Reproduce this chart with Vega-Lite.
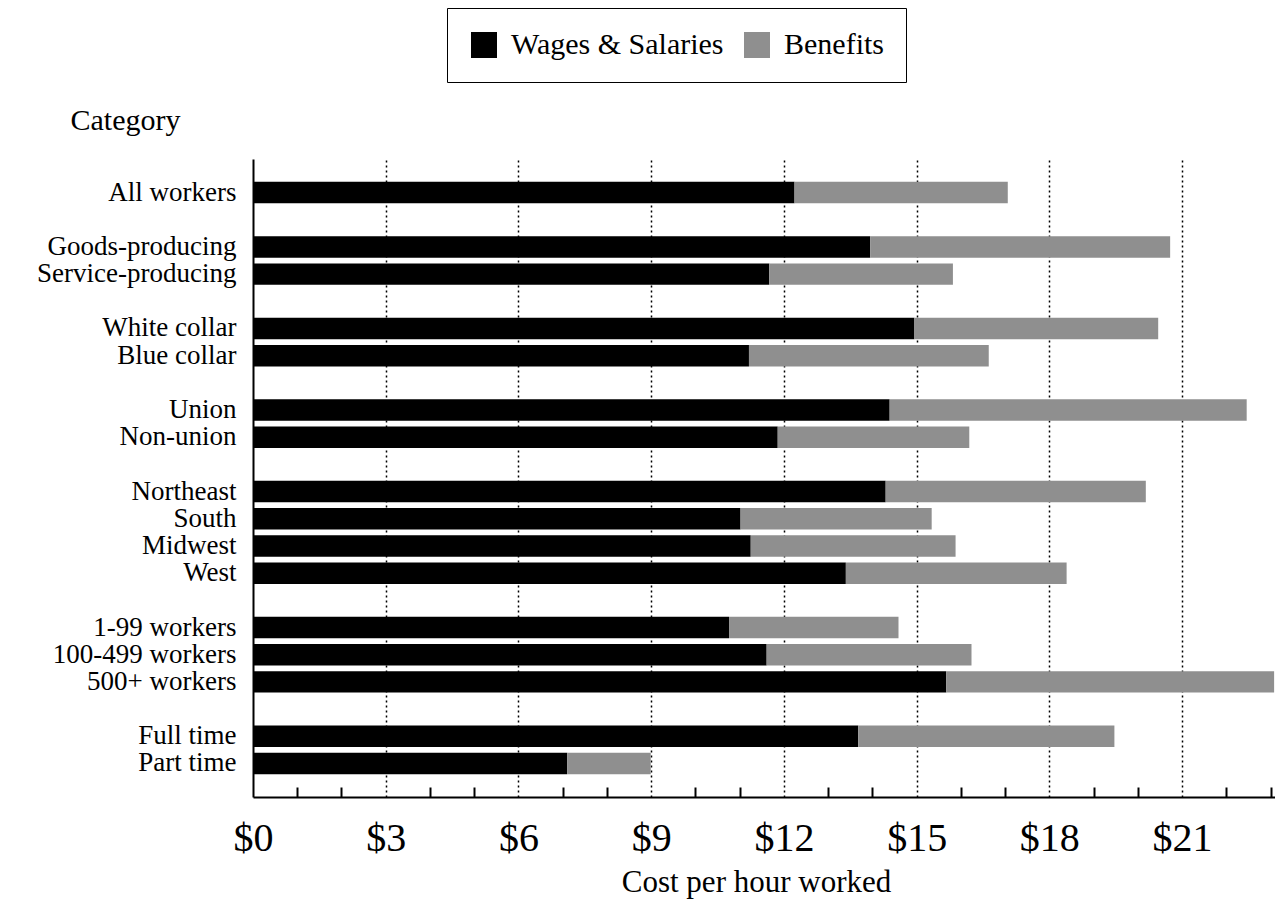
{
  "$schema": "https://vega.github.io/schema/vega-lite/v6.json",
  "width": 1022,
  "height": 638,
  "autosize": {"type": "none"},
  "padding": {"left": 253, "top": 159, "right": 0, "bottom": 102},
  "background": "white",
  "data": {
    "values": [
      {"category": "All workers", "component": "Wages & Salaries", "ord": 1, "cost": 12.24},
      {"category": "All workers", "component": "Benefits", "ord": 2, "cost": 4.82},
      {"category": "Goods-producing", "component": "Wages & Salaries", "ord": 1, "cost": 13.95},
      {"category": "Goods-producing", "component": "Benefits", "ord": 2, "cost": 6.78},
      {"category": "Service-producing", "component": "Wages & Salaries", "ord": 1, "cost": 11.67},
      {"category": "Service-producing", "component": "Benefits", "ord": 2, "cost": 4.15},
      {"category": "White collar", "component": "Wages & Salaries", "ord": 1, "cost": 14.95},
      {"category": "White collar", "component": "Benefits", "ord": 2, "cost": 5.51},
      {"category": "Blue collar", "component": "Wages & Salaries", "ord": 1, "cost": 11.21},
      {"category": "Blue collar", "component": "Benefits", "ord": 2, "cost": 5.42},
      {"category": "Union", "component": "Wages & Salaries", "ord": 1, "cost": 14.39},
      {"category": "Union", "component": "Benefits", "ord": 2, "cost": 8.07},
      {"category": "Non-union", "component": "Wages & Salaries", "ord": 1, "cost": 11.86},
      {"category": "Non-union", "component": "Benefits", "ord": 2, "cost": 4.33},
      {"category": "Northeast", "component": "Wages & Salaries", "ord": 1, "cost": 14.30},
      {"category": "Northeast", "component": "Benefits", "ord": 2, "cost": 5.88},
      {"category": "South", "component": "Wages & Salaries", "ord": 1, "cost": 11.02},
      {"category": "South", "component": "Benefits", "ord": 2, "cost": 4.32},
      {"category": "Midwest", "component": "Wages & Salaries", "ord": 1, "cost": 11.25},
      {"category": "Midwest", "component": "Benefits", "ord": 2, "cost": 4.63},
      {"category": "West", "component": "Wages & Salaries", "ord": 1, "cost": 13.40},
      {"category": "West", "component": "Benefits", "ord": 2, "cost": 4.99},
      {"category": "1-99 workers", "component": "Wages & Salaries", "ord": 1, "cost": 10.76},
      {"category": "1-99 workers", "component": "Benefits", "ord": 2, "cost": 3.83},
      {"category": "100-499 workers", "component": "Wages & Salaries", "ord": 1, "cost": 11.61},
      {"category": "100-499 workers", "component": "Benefits", "ord": 2, "cost": 4.63},
      {"category": "500+ workers", "component": "Wages & Salaries", "ord": 1, "cost": 15.67},
      {"category": "500+ workers", "component": "Benefits", "ord": 2, "cost": 7.41},
      {"category": "Full time", "component": "Wages & Salaries", "ord": 1, "cost": 13.68},
      {"category": "Full time", "component": "Benefits", "ord": 2, "cost": 5.79},
      {"category": "Part time", "component": "Wages & Salaries", "ord": 1, "cost": 7.10},
      {"category": "Part time", "component": "Benefits", "ord": 2, "cost": 1.89}
    ]
  },
  "mark": {"type": "bar", "clip": true},
  "encoding": {
    "y": {
      "field": "category",
      "type": "nominal",
      "scale": {
        "domain": ["All workers", " ", "Goods-producing", "Service-producing", "  ", "White collar", "Blue collar", "   ", "Union", "Non-union", "    ", "Northeast", "South", "Midwest", "West", "     ", "1-99 workers", "100-499 workers", "500+ workers", "      ", "Full time", "Part time"],
        "paddingInner": 0.21,
        "paddingOuter": 0.84
      },
      "axis": {
        "title": "Category",
        "titleAngle": 0,
        "titleAlign": "left",
        "titleBaseline": "middle",
        "titleX": -183,
        "titleY": -39,
        "titleFontSize": 30,
        "titleFontWeight": "normal",
        "titleColor": "black",
        "labelFontSize": 27,
        "labelColor": "black",
        "labelLimit": 0,
        "ticks": false,
        "labelPadding": 17,
        "domainColor": "black",
        "domainWidth": 2,
        "grid": false
      }
    },
    "x": {
      "field": "cost",
      "type": "quantitative",
      "stack": "zero",
      "scale": {"domain": [0, 23.1], "nice": false, "zero": true},
      "axis": {
        "values": [0, 1, 2, 3, 4, 5, 6, 7, 8, 9, 10, 11, 12, 13, 14, 15, 16, 17, 18, 19, 20, 21, 22, 23],
        "labelExpr": "datum.value % 3 == 0 ? '$' + datum.value : ''",
        "title": "Cost per hour worked",
        "titleFontSize": 31,
        "titleFontWeight": "normal",
        "titleColor": "black",
        "titleX": 503,
        "titleY": 85,
        "titleAlign": "center",
        "titleBaseline": "middle",
        "labelFontSize": 40,
        "labelColor": "black",
        "labelPadding": 31,
        "labelFlush": false,
        "labelOverlap": false,
        "tickSize": -10,
        "tickColor": "black",
        "tickWidth": 2,
        "tickOpacity": {"condition": {"test": "datum.value % 3 == 0", "value": 0}, "value": 1},
        "domainColor": "black",
        "domainWidth": 2,
        "grid": true,
        "gridColor": "black",
        "gridDash": [2, 3],
        "gridWidth": 1.5,
        "gridOpacity": {"condition": {"test": "datum.value % 3 == 0 && datum.value > 0", "value": 1}, "value": 0}
      }
    },
    "color": {
      "field": "component",
      "type": "nominal",
      "scale": {"domain": ["Wages & Salaries", "Benefits"], "range": ["#000000", "#8f8f8f"]},
      "legend": {
        "orient": "none",
        "legendX": 194,
        "legendY": -151,
        "direction": "horizontal",
        "title": null,
        "labelFontSize": 30,
        "labelColor": "black",
        "labelLimit": 0,
        "symbolType": "square",
        "symbolSize": 676,
        "symbolStrokeWidth": 0,
        "symbolOpacity": 1,
        "strokeColor": "black",
        "padding": 22,
        "labelOffset": 12,
        "columnPadding": 18
      }
    },
    "order": {"field": "ord", "type": "quantitative"}
  },
  "config": {
    "view": {"stroke": null},
    "font": "Liberation Serif"
  }
}
